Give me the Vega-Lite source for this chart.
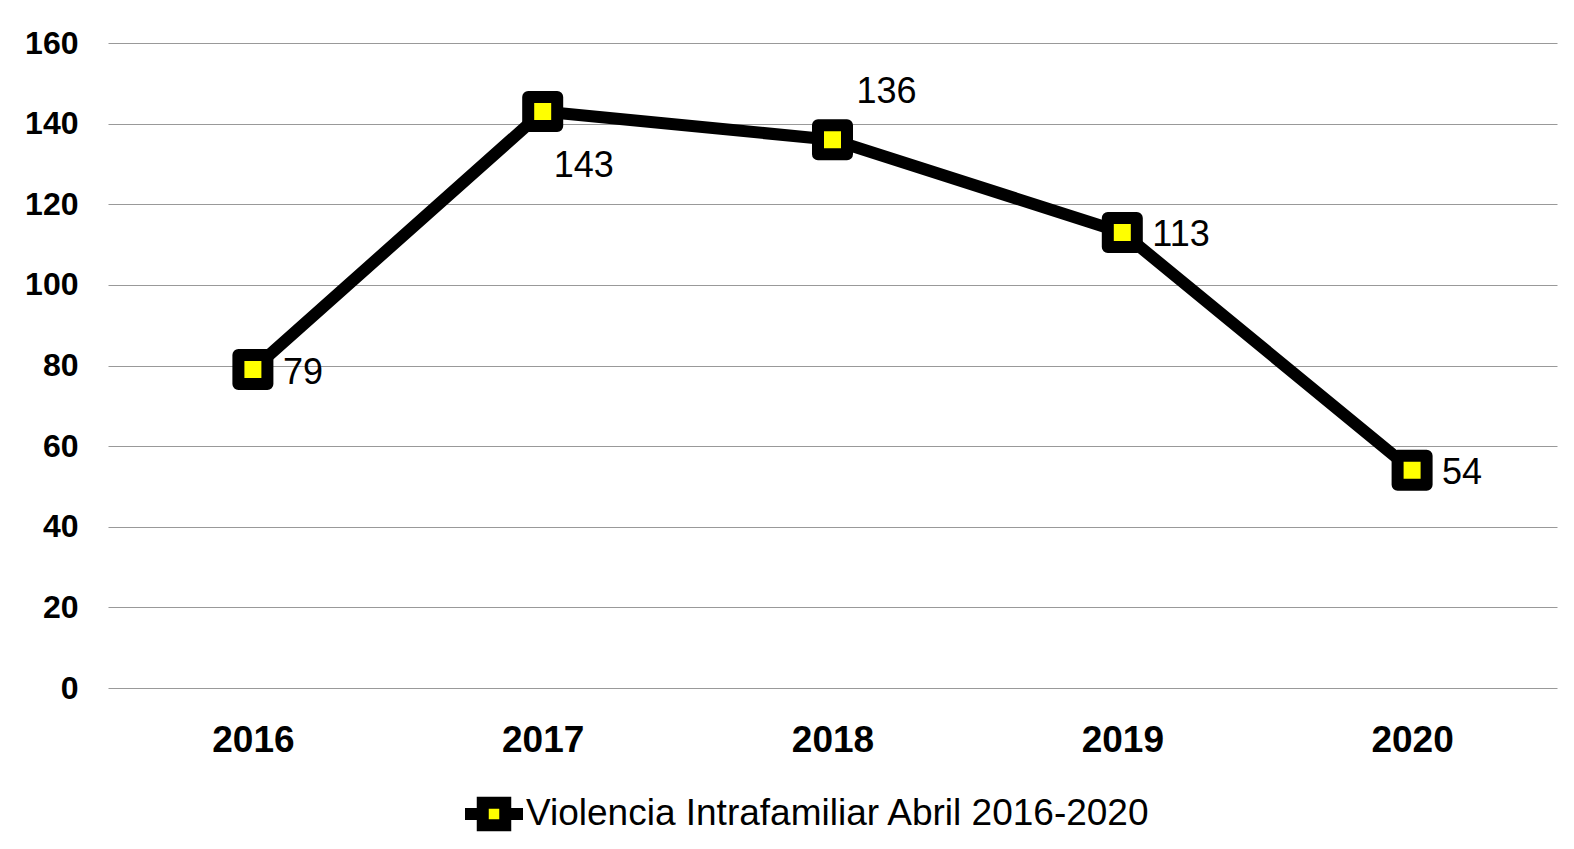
{
  "$schema": "https://vega.github.io/schema/vega-lite/v6.json",
  "width": 1449,
  "height": 645,
  "autosize": {"type": "none"},
  "padding": {"left": 108, "top": 43, "right": 17, "bottom": 161},
  "background": "white",
  "config": {
    "view": {"stroke": null},
    "font": "Liberation Sans",
    "axis": {"labelFont": "Liberation Sans", "labelColor": "black"}
  },
  "data": {
    "values": [
      {"anio": "2016", "valor": 79, "serie": "Violencia Intrafamiliar Abril 2016-2020"},
      {"anio": "2017", "valor": 143, "serie": "Violencia Intrafamiliar Abril 2016-2020"},
      {"anio": "2018", "valor": 136, "serie": "Violencia Intrafamiliar Abril 2016-2020"},
      {"anio": "2019", "valor": 113, "serie": "Violencia Intrafamiliar Abril 2016-2020"},
      {"anio": "2020", "valor": 54, "serie": "Violencia Intrafamiliar Abril 2016-2020"}
    ]
  },
  "encoding": {
    "x": {
      "field": "anio",
      "type": "ordinal",
      "scale": {"type": "point", "padding": 0.5},
      "axis": {
        "title": null,
        "labelAngle": 0,
        "labelFontSize": 37,
        "labelFontWeight": "bold",
        "labelPadding": 34,
        "ticks": false,
        "tickSize": 0,
        "domain": false,
        "grid": false
      }
    },
    "y": {
      "field": "valor",
      "type": "quantitative",
      "scale": {"domain": [0, 160], "nice": false},
      "axis": {
        "title": null,
        "values": [0, 20, 40, 60, 80, 100, 120, 140, 160],
        "labelFontSize": 32,
        "labelFontWeight": "bold",
        "labelPadding": 30,
        "ticks": false,
        "tickSize": 0,
        "domain": false,
        "grid": true,
        "gridColor": "#999999",
        "gridWidth": 1.2
      }
    }
  },
  "layer": [
    {
      "mark": {"type": "line", "strokeWidth": 12, "color": "black", "strokeJoin": "round"}
    },
    {
      "mark": {
        "type": "point",
        "shape": "square",
        "size": 841,
        "filled": true,
        "fill": "#ffff00",
        "stroke": "black",
        "strokeWidth": 12,
        "strokeJoin": "round",
        "opacity": 1
      },
      "encoding": {
        "stroke": {
          "field": "serie",
          "type": "nominal",
          "scale": {"range": ["black"]},
          "legend": {
            "title": null,
            "orient": "none",
            "legendX": 360,
            "legendY": 745,
            "padding": 0,
            "symbolSize": 1600,
            "symbolStrokeWidth": 12,
            "symbolStrokeColor": "black",
            "symbolFillColor": "#ffff00",
            "symbolType": "M-1.45,0H-0.5625M0.5625,0H1.45M-0.5625,-0.5625H0.5625V0.5625H-0.5625Z",
            "labelFontSize": 37,
            "labelFont": "Liberation Sans",
            "labelColor": "black",
            "labelOffset": 6,
            "labelLimit": 1000,
            "encode": {
              "symbols": {
                "update": {
                  "fill": {"value": "#ffff00"},
                  "stroke": {"value": "black"},
                  "strokeWidth": {"value": 12},
                  "strokeJoin": {"value": "round"},
                  "opacity": {"value": 1},
                  "size": {"value": 1600},
                  "shape": {"value": "M-1.45,0H-0.5625M0.5625,0H1.45M-0.5625,-0.5625H0.5625V0.5625H-0.5625Z"}
                }
              }
            }
          }
        }
      }
    },
    {
      "transform": [{"filter": "datum.anio == '2016' || datum.anio == '2019' || datum.anio == '2020'"}],
      "mark": {"type": "text", "align": "left", "baseline": "middle", "dx": 30, "dy": 3, "fontSize": 36, "color": "black"},
      "encoding": {"text": {"field": "valor", "type": "quantitative"}}
    },
    {
      "transform": [{"filter": "datum.anio == '2017'"}],
      "mark": {"type": "text", "align": "left", "baseline": "middle", "dx": 11, "dy": 54, "fontSize": 36, "color": "black"},
      "encoding": {"text": {"field": "valor", "type": "quantitative"}}
    },
    {
      "transform": [{"filter": "datum.anio == '2018'"}],
      "mark": {"type": "text", "align": "left", "baseline": "middle", "dx": 24, "dy": -48, "fontSize": 36, "color": "black"},
      "encoding": {"text": {"field": "valor", "type": "quantitative"}}
    }
  ]
}
